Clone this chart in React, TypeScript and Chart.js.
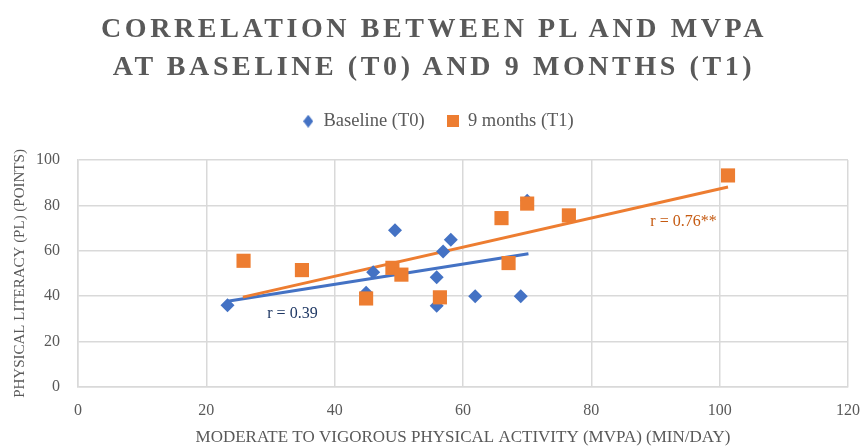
import React, { useEffect, useRef } from "react";
import { Chart, registerables } from "chart.js";

Chart.register(...registerables);

// ---- Data ----
const seriesNames = ["Baseline (T0)", "9 months (T1)"];

const baselineMVPA = [23.3, 49.4, 46.0, 44.9, 55.9, 55.9, 56.9, 58.1, 61.9, 69.0, 70.0];
const baselinePL = [36.0, 69.0, 50.5, 41.5, 48.3, 35.8, 59.7, 64.9, 40.0, 40.0, 82.0];

const monthsMVPA = [25.8, 34.9, 44.9, 49.0, 50.4, 56.4, 66.0, 67.1, 70.0, 76.5, 101.3];
const monthsPL = [55.6, 51.5, 39.0, 52.5, 49.5, 39.5, 74.4, 54.6, 80.8, 75.6, 93.2];

const baselineTrendX = [23.3, 70.2];
const baselineTrendY = [37.8, 58.7];
const monthsTrendX = [25.7, 101.3];
const monthsTrendY = [39.6, 88.1];

const xTicks = [0, 20, 40, 60, 80, 100, 120];
const yTicks = [0, 20, 40, 60, 80, 100];

const rLabels = ["r = 0.39", "r = 0.76**"];
const rLabelX = [29.5, 89.2];
const rLabelY = [32.2, 72.8];

const titleLines = ["CORRELATION BETWEEN PL AND MVPA", "AT BASELINE (T0) AND 9 MONTHS (T1)"];
const xTitle = "MODERATE TO VIGOROUS PHYSICAL ACTIVITY (MVPA) (MIN/DAY)";
const yTitle = "PHYSICAL LITERACY (PL) (POINTS)";

const BLUE = "#4472C4";
const ORANGE = "#ED7D31";
const GREY = "#595959";
const GRID = "#D9D9D9";
const FONT = "'Liberation Serif', 'Times New Roman', serif";

const pts = (xs: number[], ys: number[]) => xs.map((x, i) => ({ x, y: ys[i] }));

function makeMarker(kind: "diamond" | "square", color: string) {
  const c = document.createElement("canvas");
  if (kind === "diamond") {
    c.width = 10;
    c.height = 13;
    const g = c.getContext("2d")!;
    g.fillStyle = color;
    g.beginPath();
    g.moveTo(5, 0);
    g.lineTo(10, 6.5);
    g.lineTo(5, 13);
    g.lineTo(0, 6.5);
    g.closePath();
    g.fill();
  } else {
    c.width = 12;
    c.height = 12;
    const g = c.getContext("2d")!;
    g.fillStyle = color;
    g.fillRect(0, 0, 12, 12);
  }
  return c;
}

export default function App() {
  const ref = useRef<HTMLCanvasElement | null>(null);

  useEffect(() => {
    if (!ref.current) return;
    const markers = [makeMarker("diamond", BLUE), makeMarker("square", ORANGE)];

    const legendSpacer = {
      id: "legendSpacer",
      beforeInit(chart: any) {
        const lg = chart.legend;
        if (!lg) return;
        const orig = lg.fit;
        lg.fit = function () {
          orig.call(this);
          this.height += 19.5;
        };
      },
    };

    const rLabelPlugin = {
      id: "rLabels",
      afterDatasetsDraw(chart: any) {
        const { ctx, scales } = chart;
        const colors = ["#1F3864", "#C55A11"];
        ctx.save();
        ctx.font = `16px ${FONT}`;
        ctx.textBaseline = "middle";
        ctx.textAlign = "left";
        rLabels.forEach((t, i) => {
          ctx.fillStyle = colors[i];
          ctx.fillText(t, scales.x.getPixelForValue(rLabelX[i]), scales.y.getPixelForValue(rLabelY[i]));
        });
        ctx.restore();
      },
    };

    const chart = new Chart(ref.current, {
      type: "scatter",
      data: {
        datasets: [
          {
            label: seriesNames[0],
            data: pts(baselineMVPA, baselinePL),
            pointStyle: "rectRot",
            pointRadius: 7,
            pointHoverRadius: 7,
            backgroundColor: BLUE,
            borderColor: BLUE,
            borderWidth: 0,
            order: 1,
          },
          {
            label: seriesNames[1],
            data: pts(monthsMVPA, monthsPL),
            pointStyle: "rect",
            pointRadius: 10,
            pointHoverRadius: 10,
            backgroundColor: ORANGE,
            borderColor: ORANGE,
            borderWidth: 0,
            order: 0,
          },
          {
            label: "trend0",
            data: pts(baselineTrendX, baselineTrendY),
            showLine: true,
            pointRadius: 0,
            borderColor: BLUE,
            borderWidth: 3,
            order: 3,
          } as any,
          {
            label: "trend1",
            data: pts(monthsTrendX, monthsTrendY),
            showLine: true,
            pointRadius: 0,
            borderColor: ORANGE,
            borderWidth: 3,
            order: 2,
          } as any,
        ],
      },
      options: {
        responsive: false,
        animation: false,
        devicePixelRatio: 1,
        layout: { padding: { top: 90, left: 11, right: 0, bottom: 0 } },
        plugins: {
          tooltip: { enabled: false },
          title: { display: false },
          legend: {
            display: true,
            position: "top",
            labels: {
              usePointStyle: true,
              boxWidth: 12,
              boxHeight: 12,
              padding: 22,
              color: GREY,
              font: { family: FONT, size: 18.5 },
              filter: (item: any) => item.datasetIndex < 2,
              sort: (a: any, b: any) => a.datasetIndex - b.datasetIndex,
              generateLabels: (c: any) => {
                const items = Chart.defaults.plugins.legend.labels.generateLabels(c);
                return items.map((it: any) =>
                  it.datasetIndex < 2 ? { ...it, pointStyle: markers[it.datasetIndex], lineWidth: 0 } : it
                );
              },
            },
          },
        },
        scales: {
          x: {
            type: "linear",
            min: xTicks[0],
            max: xTicks[xTicks.length - 1],
            afterBuildTicks: (s: any) => {
              s.ticks = xTicks.map((v) => ({ value: v }));
            },
            afterFit: (s: any) => {
              s.height = 61;
              s.paddingRight = 17;
            },
            ticks: { color: GREY, font: { family: FONT, size: 16 }, padding: 14 },
            grid: { color: GRID, lineWidth: 1.5, drawTicks: false },
            border: { color: GRID, width: 1.5 },
            title: {
              display: true,
              text: xTitle,
              color: GREY,
              font: { family: FONT, size: 17 },
              padding: { top: 0, bottom: 0 },
            },
          },
          y: {
            type: "linear",
            min: yTicks[0],
            max: yTicks[yTicks.length - 1],
            afterBuildTicks: (s: any) => {
              s.ticks = yTicks.map((v) => ({ value: v }));
            },
            afterFit: (s: any) => {
              s.width = 67;
            },
            ticks: { color: GREY, font: { family: FONT, size: 16 }, padding: 18 },
            grid: { color: GRID, lineWidth: 1.5, drawTicks: false },
            border: { color: GRID, width: 1.5 },
            title: {
              display: true,
              text: yTitle,
              color: GREY,
              font: { family: FONT, size: 15 },
              padding: { top: 0, bottom: 0 },
            },
          },
        },
      },
      plugins: [legendSpacer, rLabelPlugin],
    } as any);

    return () => chart.destroy();
  }, []);

  return (
    <div
      style={{
        position: "fixed",
        left: 0,
        top: 0,
        width: 865,
        height: 448,
        background: "#ffffff",
        overflow: "hidden",
      }}
    >
      <canvas ref={ref} width={865} height={448} style={{ display: "block", width: 865, height: 448 }} />
      <div
        style={{
          position: "absolute",
          top: 9,
          left: 0,
          width: 865,
          textAlign: "center",
          fontFamily: FONT,
          fontWeight: "bold",
          fontSize: 28,
          lineHeight: "38px",
          letterSpacing: "3.6px",
          paddingLeft: 3,
          boxSizing: "border-box",
          color: GREY,
        }}
      >
        {titleLines.map((t) => (
          <div key={t}>{t}</div>
        ))}
      </div>
    </div>
  );
}
